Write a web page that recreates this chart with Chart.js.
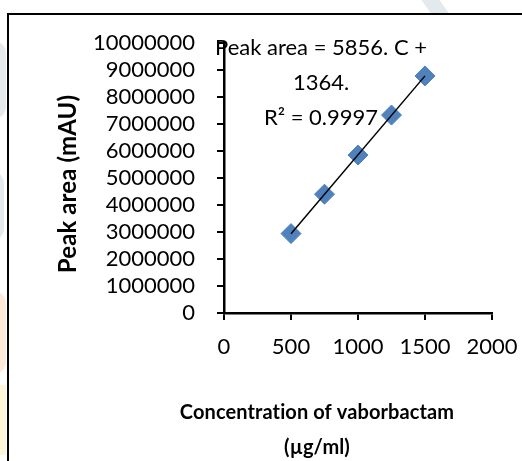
<!DOCTYPE html>
<html>
<head>
<meta charset="utf-8">
<script src="https://cdn.jsdelivr.net/npm/chart.js@4.4.1/dist/chart.umd.min.js"></script>
<style>
  html, body { margin: 0; padding: 0; background: #fff; overflow: hidden; }
  .wrap { position: relative; width: 522px; height: 461px; overflow: hidden; }
  .wm { position: absolute; }
  canvas { position: absolute; left: 0; top: 0; }
</style>
</head>
<body>
<div class="wrap">
  <!-- faint watermark bits that show outside the chart frame -->
  <div class="wm" style="left:-30px;top:40px;width:36px;height:80px;background:#e3e9ed;border-radius:14px"></div>
  <div class="wm" style="left:-30px;top:170px;width:34px;height:72px;background:#e3e9ed;border-radius:14px"></div>
  <div class="wm" style="left:-30px;top:290px;width:36px;height:85px;background:#fde9d9;border-radius:14px"></div>
  <div class="wm" style="left:-30px;top:385px;width:36px;height:70px;background:#fdf6d8"></div>
  <div class="wm" style="left:425px;top:-10px;width:18px;height:30px;background:#e3e9ed;transform:skewX(35deg)"></div>
  <canvas id="calibrationChart" width="522" height="461"></canvas>
</div>
<script>
const concentrations = [500, 750, 1000, 1250, 1500];
const peakAreas = [2940000, 4400000, 5850000, 7330000, 8780000];
const xTicks = [0, 500, 1000, 1500, 2000];
const yTicks = [0, 1000000, 2000000, 3000000, 4000000, 5000000, 6000000, 7000000, 8000000, 9000000, 10000000];
const equationLines = ["Peak area = 5856. C +", "1364.", "R\u00b2 = 0.9997"];
const xTitleLines = ["Concentration of vaborbactam", "(\u00b5g/ml)"];
const yTitle = "Peak area (mAU)";

// least squares trendline through the points, like the spreadsheet does
function trendline(xs, ys) {
  const n = xs.length;
  const mx = xs.reduce((a, b) => a + b, 0) / n;
  const my = ys.reduce((a, b) => a + b, 0) / n;
  let sxy = 0, sxx = 0;
  for (let i = 0; i < n; i++) {
    sxy += (xs[i] - mx) * (ys[i] - my);
    sxx += (xs[i] - mx) * (xs[i] - mx);
  }
  const slope = sxy / sxx;
  const icpt = my - slope * mx;
  const x0 = Math.min(...xs), x1 = Math.max(...xs);
  return [{ x: x0, y: slope * x0 + icpt }, { x: x1, y: slope * x1 + icpt }];
}

const framePlugin = {
  id: "frame",
  beforeDraw(chart) {
    const ctx = chart.ctx;
    ctx.save();
    ctx.fillStyle = "#fff";
    ctx.fillRect(8, 14, chart.width, chart.height);
    ctx.strokeStyle = "#000";
    ctx.lineWidth = 2;
    ctx.strokeRect(8, 14, chart.width + 20, chart.height + 20);
    ctx.restore();
  },
};

// equation box and axis titles, placed where the spreadsheet put them
const textPlugin = {
  id: "labels",
  beforeDatasetsDraw(chart) {
    const ctx = chart.ctx;
    ctx.save();
    ctx.fillStyle = "#000";
    ctx.textAlign = "center";
    ctx.textBaseline = "middle";
    ctx.font = "22px Lato";
    equationLines.forEach((line, i) => ctx.fillText(line, 321, 48 + i * 35));
    ctx.font = "bold 20px Lato";
    ctx.letterSpacing = "0.1px"; // keeps "ti" from turning into a ligature
    xTitleLines.forEach((line, i) => ctx.fillText(line, 317, 413 + i * 35));
    ctx.translate(68, 184);
    ctx.rotate(-Math.PI / 2);
    ctx.font = "bold 24px Lato";
    ctx.fillText(yTitle, 0, 0);
    ctx.restore();
  },
};

const tickFont = { family: "Lato", size: 22 };

document.addEventListener("DOMContentLoaded", () => {
  const ctx = document.getElementById("calibrationChart").getContext("2d");
  new Chart(ctx, {
    type: "scatter",
    data: {
      datasets: [
        {
          type: "line",
          data: trendline(concentrations, peakAreas),
          borderColor: "#000",
          borderWidth: 1.5,
          pointRadius: 0,
          fill: false,
        },
        {
          data: concentrations.map((c, i) => ({ x: c, y: peakAreas[i] })),
          pointStyle: "rectRot",
          pointRadius: 10,
          backgroundColor: "#4f81bd",
          borderColor: "#4f81bd",
          borderWidth: 1,
        },
      ],
    },
    options: {
      responsive: false,
      animation: false,
      layout: { padding: { left: 8, top: 43, right: 30, bottom: 0 } },
      plugins: {
        legend: { display: false },
        tooltip: { enabled: false },
      },
      scales: {
        x: {
          type: "linear",
          min: xTicks[0],
          max: xTicks[xTicks.length - 1],
          afterBuildTicks: (scale) => { scale.ticks = xTicks.map((v) => ({ value: v })); },
          afterFit: (scale) => {
            scale.height = 148;
            scale.paddingLeft = 0;
            scale.paddingRight = 0;
          },
          grid: { drawOnChartArea: false, drawTicks: true, tickLength: 7, color: "#000", lineWidth: 2 },
          border: { color: "#000", width: 2.5 },
          ticks: { color: "#000", font: tickFont, padding: 14, maxRotation: 0, autoSkip: false, callback: (v) => String(v) },
        },
        y: {
          min: yTicks[0],
          max: yTicks[yTicks.length - 1],
          afterBuildTicks: (scale) => { scale.ticks = yTicks.map((v) => ({ value: v })); },
          afterFit: (scale) => { scale.width = 216; },
          grid: { drawOnChartArea: false, drawTicks: true, tickLength: 7, color: "#000", lineWidth: 2 },
          border: { color: "#000", width: 2.5 },
          ticks: { color: "#000", font: tickFont, padding: 22, autoSkip: false, callback: (v) => String(v) },
        },
      },
    },
    plugins: [framePlugin, textPlugin],
  });
});
</script>
</body>
</html>
